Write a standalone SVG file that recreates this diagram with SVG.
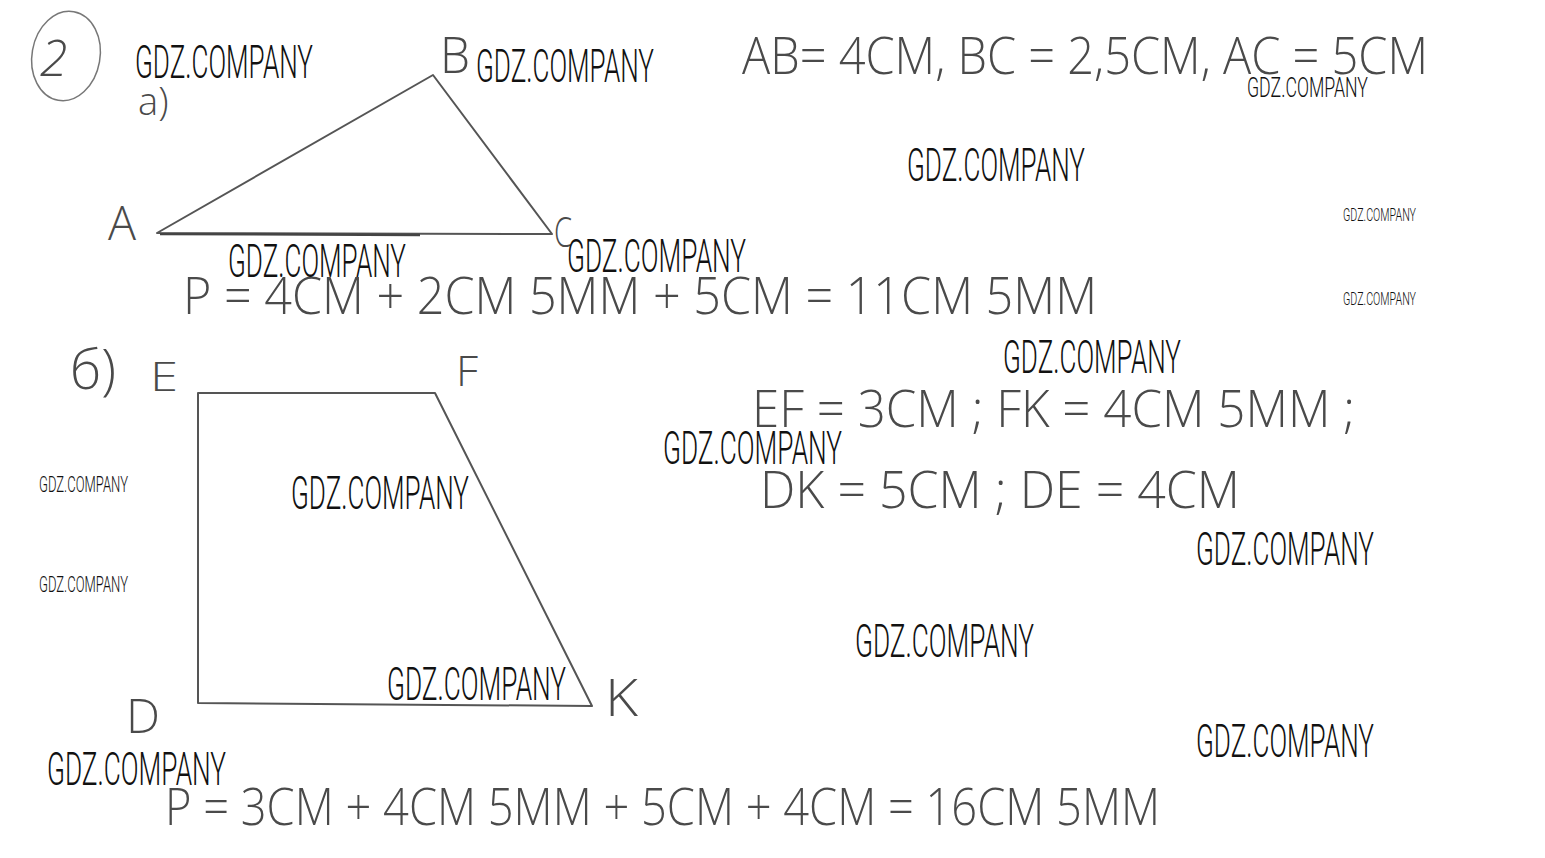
<svg xmlns="http://www.w3.org/2000/svg" width="1545" height="858" viewBox="0 0 1545 858">
<style>
.wm{font-family:Roboto,"Liberation Sans",sans-serif;font-weight:300;fill:#111;}
.hw{font-family:"Open Sans","Liberation Sans",sans-serif;font-weight:300;fill:#4a4a4a;}
.fig{fill:none;stroke:#555;stroke-width:2;stroke-linejoin:round;stroke-linecap:round;}
</style>
<rect width="1545" height="858" fill="#ffffff"/>
<g id="task-number">
<ellipse cx="66" cy="56" rx="34" ry="45" fill="none" stroke="#777" stroke-width="1.5" transform="rotate(10 66 56)"/>
<text class="hw" x="40" y="76" font-size="50" font-style="italic">2</text>
<text class="hw" x="138" y="115" font-size="38">а)</text>
</g>
<g id="triangle">
<path class="fig" d="M157 233 L433 75 L552 234 Z"/>
<line x1="160" y1="234" x2="420" y2="235" stroke="#444" stroke-width="2.5"/>
<text class="hw" x="108" y="240" font-size="48" textLength="28" lengthAdjust="spacingAndGlyphs">A</text>
<text class="hw" x="440" y="73" font-size="50" textLength="30" lengthAdjust="spacingAndGlyphs">B</text>
<text class="hw" x="554" y="247" font-size="42" textLength="18" lengthAdjust="spacingAndGlyphs">C</text>
</g>
<g id="quadrilateral">
<path class="fig" d="M198 393 L435 393 L592 706 L198 703 Z"/>
<text class="hw" x="70" y="389" font-size="56" textLength="46" lengthAdjust="spacingAndGlyphs">б)</text>
<text class="hw" x="150" y="391" font-size="40" textLength="28" lengthAdjust="spacingAndGlyphs">E</text>
<text class="hw" x="456" y="386" font-size="42" textLength="22" lengthAdjust="spacingAndGlyphs">F</text>
<text class="hw" x="126" y="733" font-size="48" textLength="34" lengthAdjust="spacingAndGlyphs">D</text>
<text class="hw" x="605" y="716" font-size="52" textLength="33" lengthAdjust="spacingAndGlyphs">K</text>
</g>
<g id="notes">
<text class="hw" x="742" y="74" font-size="52" textLength="686" lengthAdjust="spacingAndGlyphs">AB= 4СМ, BC = 2,5СМ, AC = 5СМ</text>
<text class="hw" x="183" y="314" font-size="52" textLength="914" lengthAdjust="spacingAndGlyphs">P = 4СМ + 2СМ 5ММ + 5СМ = 11СМ 5ММ</text>
<text class="hw" x="752" y="427" font-size="52" textLength="603" lengthAdjust="spacingAndGlyphs">EF = 3СМ ; FK = 4СМ 5ММ ;</text>
<text class="hw" x="760" y="508" font-size="52" textLength="480" lengthAdjust="spacingAndGlyphs">DK = 5СМ ; DE = 4СМ</text>
<text class="hw" x="165" y="825" font-size="52" textLength="995" lengthAdjust="spacingAndGlyphs">P = 3СМ + 4СМ 5ММ + 5СМ + 4СМ = 16СМ 5ММ</text>
</g>
<g id="watermarks">
<text class="wm" x="135" y="78" font-size="46" textLength="178" lengthAdjust="spacingAndGlyphs">GDZ.COMPANY</text>
<text class="wm" x="476" y="82" font-size="46" textLength="178" lengthAdjust="spacingAndGlyphs">GDZ.COMPANY</text>
<text class="wm" x="1247" y="97" font-size="28" textLength="121" lengthAdjust="spacingAndGlyphs">GDZ.COMPANY</text>
<text class="wm" x="907" y="181" font-size="46" textLength="178" lengthAdjust="spacingAndGlyphs">GDZ.COMPANY</text>
<text class="wm" x="1343" y="221" font-size="18" textLength="73" lengthAdjust="spacingAndGlyphs">GDZ.COMPANY</text>
<text class="wm" x="228" y="277" font-size="46" textLength="178" lengthAdjust="spacingAndGlyphs">GDZ.COMPANY</text>
<text class="wm" x="567" y="272" font-size="46" textLength="179" lengthAdjust="spacingAndGlyphs">GDZ.COMPANY</text>
<text class="wm" x="1343" y="305" font-size="18" textLength="73" lengthAdjust="spacingAndGlyphs">GDZ.COMPANY</text>
<text class="wm" x="1003" y="373" font-size="46" textLength="178" lengthAdjust="spacingAndGlyphs">GDZ.COMPANY</text>
<text class="wm" x="663" y="464" font-size="46" textLength="179" lengthAdjust="spacingAndGlyphs">GDZ.COMPANY</text>
<text class="wm" x="39" y="492" font-size="22" textLength="89" lengthAdjust="spacingAndGlyphs">GDZ.COMPANY</text>
<text class="wm" x="291" y="509" font-size="46" textLength="178" lengthAdjust="spacingAndGlyphs">GDZ.COMPANY</text>
<text class="wm" x="39" y="592" font-size="22" textLength="89" lengthAdjust="spacingAndGlyphs">GDZ.COMPANY</text>
<text class="wm" x="1196" y="565" font-size="46" textLength="178" lengthAdjust="spacingAndGlyphs">GDZ.COMPANY</text>
<text class="wm" x="855" y="657" font-size="46" textLength="179" lengthAdjust="spacingAndGlyphs">GDZ.COMPANY</text>
<text class="wm" x="387" y="700" font-size="46" textLength="179" lengthAdjust="spacingAndGlyphs">GDZ.COMPANY</text>
<text class="wm" x="1196" y="757" font-size="46" textLength="178" lengthAdjust="spacingAndGlyphs">GDZ.COMPANY</text>
<text class="wm" x="47" y="785" font-size="46" textLength="179" lengthAdjust="spacingAndGlyphs">GDZ.COMPANY</text>
</g>
</svg>
